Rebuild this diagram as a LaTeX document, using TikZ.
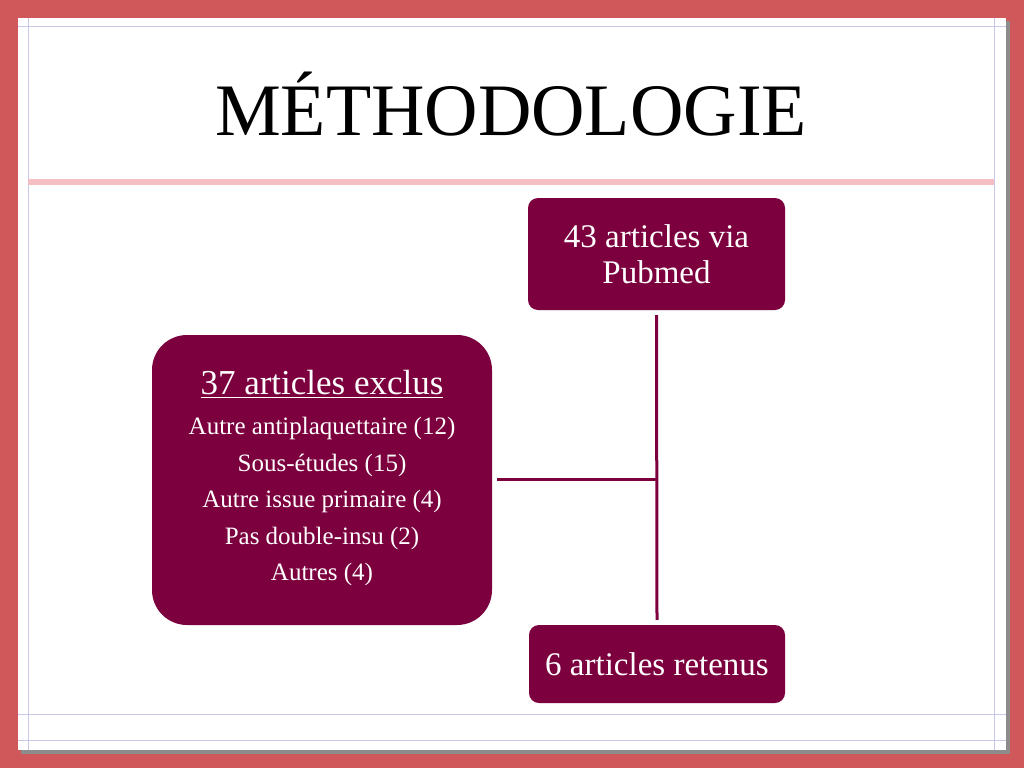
\documentclass[tikz,border=0pt]{standalone}
\usepackage{fontspec}
\setmainfont{Liberation Serif}
\definecolor{frame}{RGB}{208,88,90}
\definecolor{maroon}{RGB}{124,0,62}
\definecolor{lav}{RGB}{200,200,235}
\definecolor{pinkl}{RGB}{245,190,195}
\begin{document}
\begin{tikzpicture}[x=1pt,y=-1pt,
  box/.style={fill=maroon,text=white,rounded corners=10pt,align=center,inner sep=0pt},
  conn/.style={draw=maroon,line width=3pt}]
\useasboundingbox (0,0) rectangle (1024,768);
\fill[frame] (0,0) rectangle (1024,768);
\fill[black!45] (21,21) rectangle (1010,754);
\fill[white] (18,18) rectangle (1006,750);
\draw[lav,line width=0.8pt] (28,18) -- (28,750) (994,18) -- (994,750)
  (18,26) -- (1006,26) (18,714) -- (1006,714) (18,740) -- (1006,740);
\draw[pinkl,line width=6pt] (28,182) -- (994,182);
\node[font=\fontsize{74}{80}\selectfont] (title) at (511,104) {MÉTHODOLOGIE};
\node[box,minimum width=257pt,minimum height=112pt,font=\fontsize{33}{36}\selectfont] (top) at (656.5,254) {43 articles via\\Pubmed};
\node[box,rounded corners=35pt,minimum width=340pt,minimum height=290pt] (left) at (322,480) {};
\node[text=white,font=\fontsize{35}{40}\selectfont] (lt) at (322,384) {\underline{37 articles exclus}};
\node[text=white,align=center,anchor=north,font=\fontsize{25}{36.5}\selectfont] (ll) at (322,414) {Autre antiplaquettaire (12)\\Sous-études (15)\\Autre issue primaire (4)\\Pas double-insu (2)\\Autres (4)};
\node[box,minimum width=256pt,minimum height=78pt,font=\fontsize{33}{36}\selectfont] (bot) at (657,664) {6 articles retenus};
\coordinate (j) at (656,479);
\draw[conn] ([yshift=-5pt]top.south) -- ([yshift=5pt]bot.north);
\draw[conn] ([xshift=5pt]left.east |- j) -- (j);
\end{tikzpicture}
\end{document}
